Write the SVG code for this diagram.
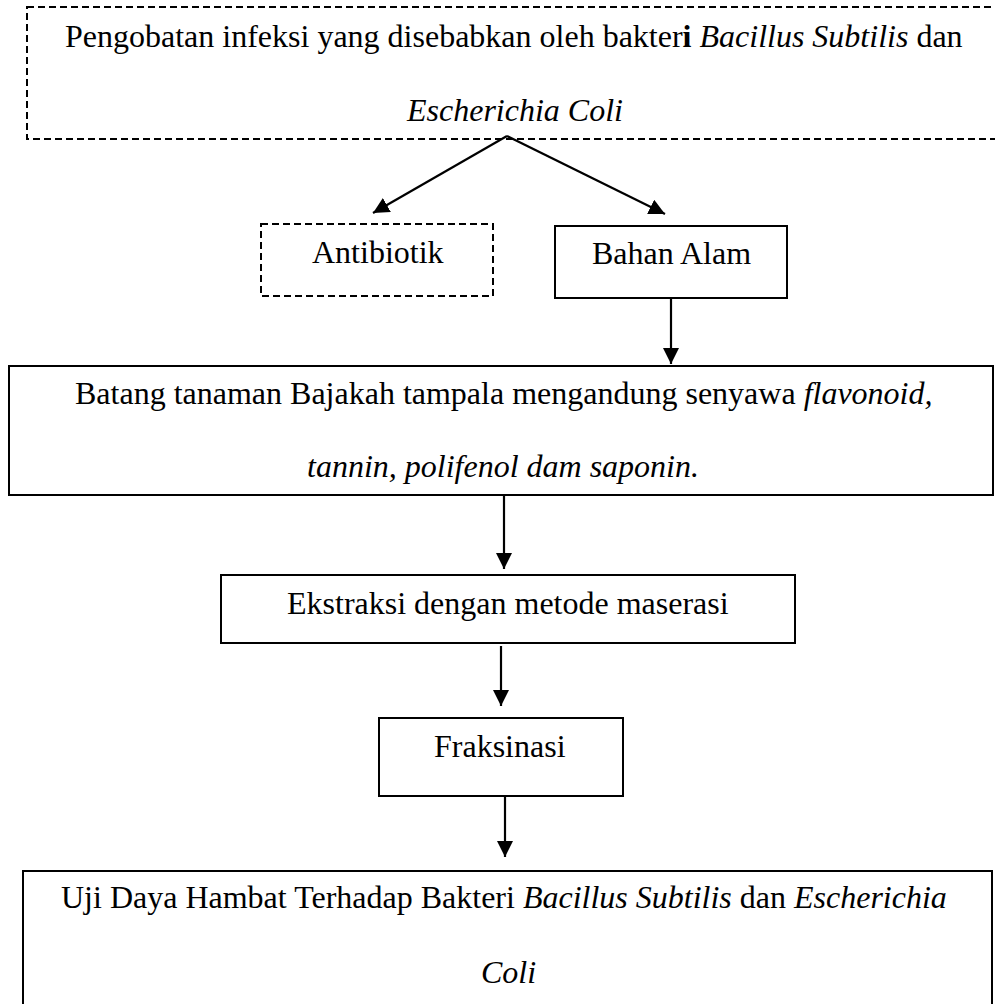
<svg xmlns="http://www.w3.org/2000/svg" width="995" height="1004" viewBox="0 0 995 1004">
<style>
text{font-family:"Liberation Serif","Times New Roman",serif;font-size:32px;fill:#000}
.it{font-style:italic}
.b{font-weight:bold}
.box{fill:#fff;stroke:#000;stroke-width:2}
.dash{stroke-dasharray:7 4}
.con line{stroke:#000;stroke-width:2.2;marker-end:url(#ah)}
</style>
<defs>
<marker id="ah" markerUnits="userSpaceOnUse" markerWidth="18" markerHeight="16" refX="16" refY="8" orient="auto">
<path d="M0,0 L16,8 L0,16 z" fill="#000"/>
</marker>
</defs>
<rect width="995" height="1004" fill="#fff"/>
<g id="n-pengobatan">
<rect class="box dash" x="27" y="7" width="980" height="132"/>
<text x="65" y="47">Pengobatan infeksi yang disebabkan oleh bakter<tspan class="b">i</tspan> <tspan class="it">Bacillus Subtilis</tspan> dan</text>
<text x="407" y="121" class="it">Escherichia Coli</text>
</g>
<g id="n-antibiotik">
<rect class="box dash" x="261" y="224" width="232" height="72"/>
<text x="312" y="263">Antibiotik</text>
</g>
<g id="n-bahanalam">
<rect class="box" x="555" y="226" width="232" height="72"/>
<text x="592" y="264">Bahan Alam</text>
</g>
<g id="n-batang">
<rect class="box" x="9" y="366" width="984" height="129"/>
<text x="75" y="404">Batang tanaman Bajakah tampala mengandung senyawa <tspan class="it">flavonoid,</tspan></text>
<text x="307" y="477" class="it">tannin, polifenol dam saponin.</text>
</g>
<g id="n-ekstraksi">
<rect class="box" x="221" y="575" width="574" height="68"/>
<text x="287" y="614">Ekstraksi dengan metode maserasi</text>
</g>
<g id="n-fraksinasi">
<rect class="box" x="379" y="718" width="244" height="78"/>
<text x="434" y="757">Fraksinasi</text>
</g>
<g id="n-uji">
<rect class="box" x="23" y="871" width="969" height="150"/>
<text x="61" y="908">Uji Daya Hambat Terhadap Bakteri <tspan class="it">Bacillus Subtilis</tspan> dan <tspan class="it">Escherichia</tspan></text>
<text x="481" y="983" class="it">Coli</text>
</g>
<g id="connectors" class="con">
<line x1="507" y1="136" x2="373" y2="213"/>
<line x1="507" y1="136" x2="665" y2="214"/>
<line x1="671" y1="298" x2="671" y2="364"/>
<line x1="504" y1="496" x2="504" y2="569"/>
<line x1="501" y1="646" x2="501" y2="706"/>
<line x1="505" y1="797" x2="505" y2="857"/>
</g>
</svg>
